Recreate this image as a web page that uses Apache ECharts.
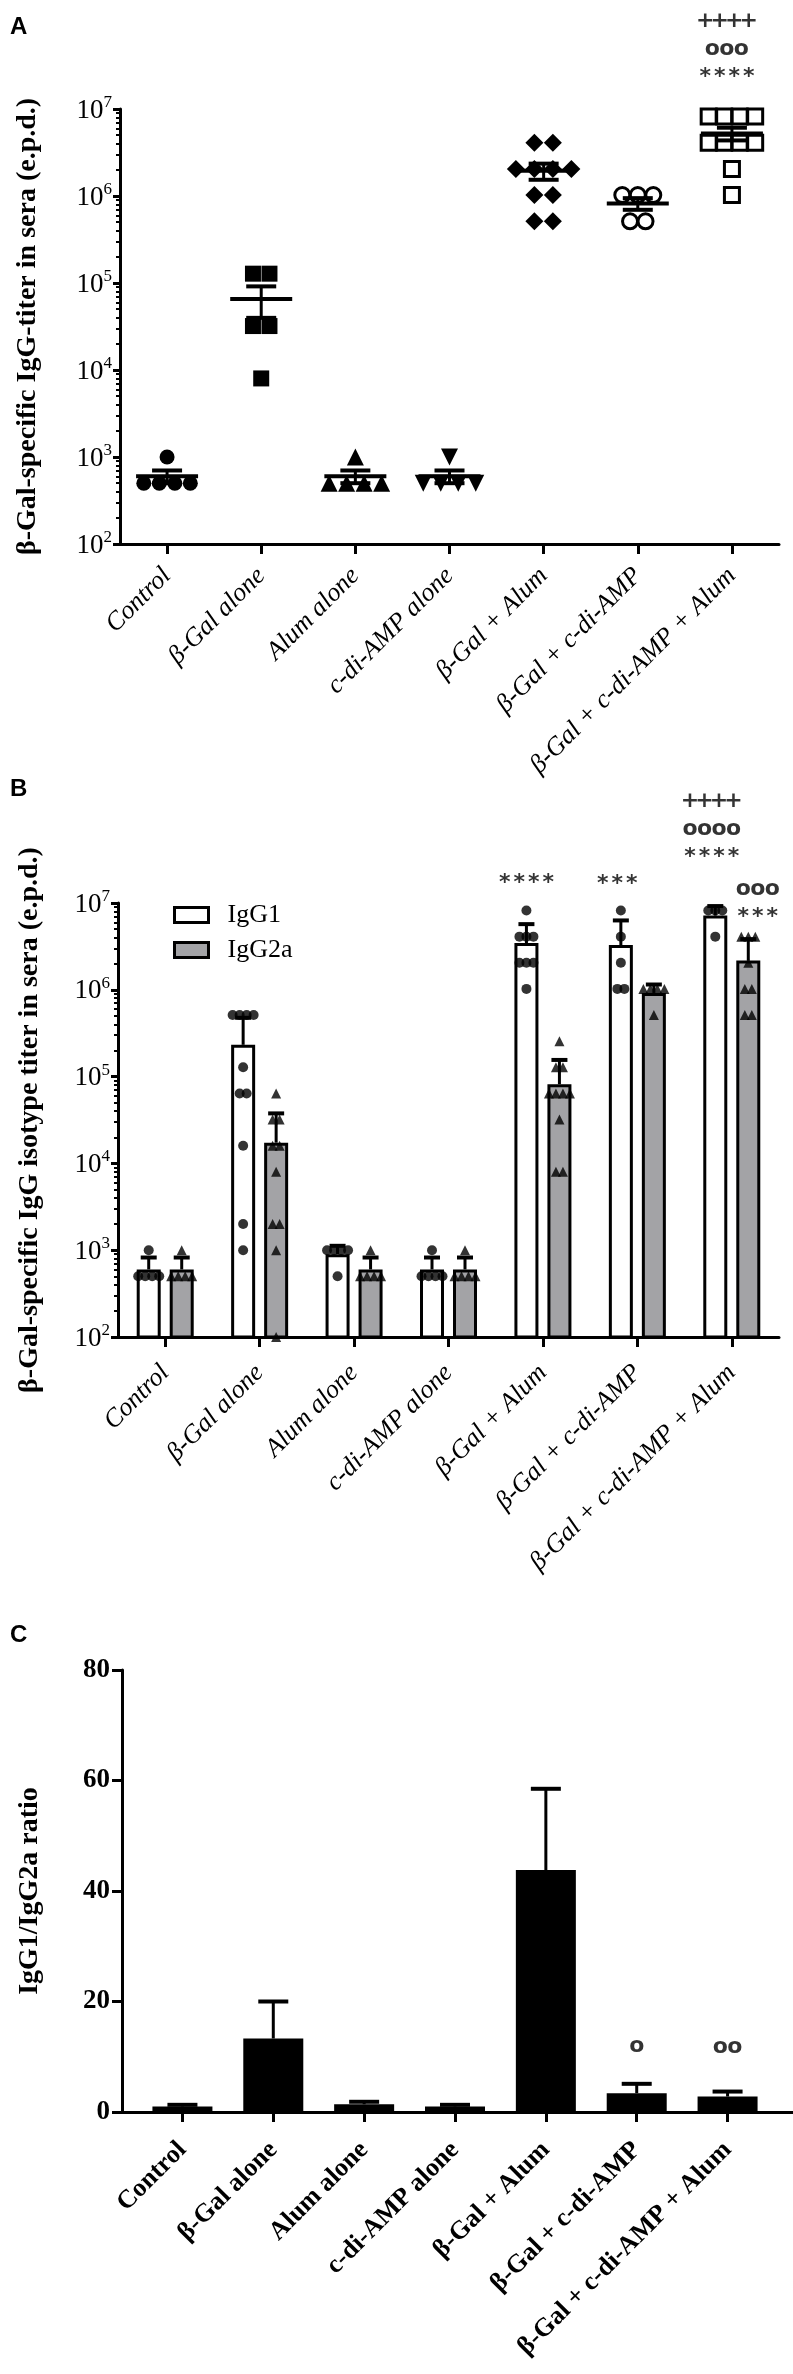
<!DOCTYPE html>
<html>
<head>
<meta charset="utf-8">
<script src="https://cdn.jsdelivr.net/npm/echarts@6/dist/echarts.min.js"></script>
<style>
html,body{margin:0;padding:0;background:#ffffff;}
#chart{width:793px;height:2374px;}
</style>
</head>
<body>
<div id="chart"></div>
<script>
// ---------------- DATA ----------------
const categories = ['Control', 'β-Gal alone', 'Alum alone', 'c-di-AMP alone', 'β-Gal + Alum', 'β-Gal + c-di-AMP', 'β-Gal + c-di-AMP + Alum'];
const logTicks = [1e2, 1e3, 1e4, 1e5, 1e6, 1e7];
const ratioTicks = [0, 20, 40, 60, 80];

// Panel A: total IgG titers per mouse (e.p.d.)
const aControl = [1000, 500, 500, 500, 500];
const aBgal = [128000, 128000, 32000, 32000, 8000];
const aAlum = [1000, 500, 500, 500, 500];
const aCdiAmp = [1000, 500, 500, 500, 500];
const aBgalAlum = [4096000, 4096000, 2048000, 2048000, 2048000, 2048000, 1024000, 1024000, 512000, 512000];
const aBgalCdi = [1024000, 1024000, 1024000, 512000, 512000];
const aBgalCdiAlum = [8192000, 8192000, 8192000, 8192000, 4096000, 4096000, 4096000, 4096000, 2048000, 1024000];

// Panel B: IgG1 / IgG2a titers per mouse
const b1Control = [1000, 500, 500, 500, 500];
const b1Bgal = [512000, 512000, 512000, 512000, 128000, 64000, 64000, 16000, 2000, 1000];
const b1Alum = [1000, 1000, 1000, 1000, 500];
const b1CdiAmp = [1000, 500, 500, 500, 500];
const b1BgalAlum = [8192000, 4096000, 4096000, 4096000, 2048000, 2048000, 2048000, 1024000];
const b1BgalCdi = [8192000, 4096000, 2048000, 1024000, 1024000];
const b1BgalCdiAlum = [8192000, 8192000, 8192000, 4096000];

const b2Control = [1000, 500, 500, 500, 500];
const b2Bgal = [64000, 32000, 32000, 16000, 16000, 8000, 2000, 2000, 1000, 100];
const b2Alum = [1000, 500, 500, 500, 500];
const b2CdiAmp = [1000, 500, 500, 500, 500];
const b2BgalAlum = [256000, 128000, 128000, 64000, 64000, 64000, 64000, 32000, 8000, 8000];
const b2BgalCdi = [1024000, 1024000, 1024000, 1024000, 512000];
const b2BgalCdiAlum = [4096000, 4096000, 4096000, 2048000, 1024000, 1024000, 512000, 512000];

// Panel C: IgG1/IgG2a ratio (mean, error)
const ratioMean = [1.0, 13.3, 1.4, 1.0, 43.8, 3.4, 2.8];
const ratioErr = [0.3, 6.7, 0.45, 0.3, 14.7, 1.7, 0.9];

// Significance annotations (text)
const annotA_all = ['++++', 'ooo', '****'];
const annotB_bgalAlum = ['****'];
const annotB_bgalCdi = ['***'];
const annotB_allIgG1 = ['++++', 'oooo', '****'];
const annotB_allIgG2a = ['ooo', '***'];
const annotC_bgalCdi = ['o'];
const annotC_all = ['oo'];

// ---------------- HELPERS ----------------
const titerA = [aControl, aBgal, aAlum, aCdiAmp, aBgalAlum, aBgalCdi, aBgalCdiAlum];
const titerB1 = [b1Control, b1Bgal, b1Alum, b1CdiAmp, b1BgalAlum, b1BgalCdi, b1BgalCdiAlum];
const titerB2 = [b2Control, b2Bgal, b2Alum, b2CdiAmp, b2BgalAlum, b2BgalCdi, b2BgalCdiAlum];

function mean(a) { return a.reduce((s, v) => s + v, 0) / a.length; }
function sd(a) { const m = mean(a); return Math.sqrt(a.reduce((s, v) => s + (v - m) * (v - m), 0) / (a.length - 1)); }
function spread(cat, values, baseDx, spacing) {
  const counts = {}; values.forEach(v => counts[v] = (counts[v] || 0) + 1);
  const seen = {};
  return values.map(v => {
    const n = counts[v];
    const k = seen[v] = (seen[v] === undefined ? 0 : seen[v] + 1);
    return { value: [cat, v], symbolOffset: [baseDx + (k - (n - 1) / 2) * spacing, 0] };
  });
}
function annotText(lines) {
  return lines.map(l => l.split('').map(ch => '{k|' + ch + '}').join('')).join('\n');
}

const SERIF = 'Liberation Serif';
const annotRich = { k: { width: 14.5, align: 'center', fontSize: 22, fontWeight: 'bold', fontFamily: 'DejaVu Sans', color: '#000', lineHeight: 28 } };

const minorLog = [];
for (let e = 2; e < 7; e++) for (let m = 2; m <= 9; m++) minorLog.push(m * Math.pow(10, e));

function supLabel(v) { return '{b|10}{s|' + Math.round(Math.log10(v)) + '}'; }
const supRich = {
  b: { fontSize: 27, fontFamily: SERIF, color: '#000', verticalAlign: 'bottom', lineHeight: 30 },
  s: { fontSize: 17, fontFamily: SERIF, color: '#000', verticalAlign: 'top', lineHeight: 30 }
};

function logAxes(grid, title, gap) {
  return [
    {
      gridIndex: grid, type: 'log', logBase: 10, min: 100, max: 1e7, position: 'left',
      name: title, nameLocation: 'middle', nameGap: gap, nameRotate: 90,
      nameTextStyle: { fontFamily: SERIF, fontWeight: 'bold', fontSize: 28, color: '#000' },
      axisLine: { show: true, lineStyle: { color: '#000', width: 3 } },
      axisTick: { show: true, length: 7, lineStyle: { color: '#000', width: 3 }, customValues: logTicks },
      axisLabel: { show: true, margin: 8, formatter: supLabel, rich: supRich, customValues: logTicks },
      splitLine: { show: false }
    },
    {
      gridIndex: grid, type: 'log', logBase: 10, min: 100, max: 1e7, position: 'left',
      axisLine: { show: false },
      axisTick: { show: true, length: 4, lineStyle: { color: '#000', width: 2 }, customValues: minorLog },
      axisLabel: { show: false },
      splitLine: { show: false }
    }
  ];
}

function catAxis(grid, margin, bold) {
  return {
    gridIndex: grid, type: 'category', data: categories,
    axisLine: { show: true, lineStyle: { color: '#000', width: 3 } },
    axisTick: { show: true, alignWithLabel: true, length: 10, lineStyle: { color: '#000', width: 3 } },
    axisLabel: {
      interval: 0, rotate: 45, margin: margin, color: '#000', fontFamily: SERIF, fontSize: 26,
      fontStyle: bold ? 'normal' : 'italic', fontWeight: bold ? 'bold' : 'normal'
    },
    splitLine: { show: false }
  };
}

// ---------------- PANEL A ----------------
const aSymbols = [
  { symbol: 'circle', size: 15, fill: '#000' },
  { symbol: 'rect', size: 16, fill: '#000' },
  { symbol: 'triangle', size: 17, fill: '#000' },
  { symbol: 'triangle', size: 17, fill: '#000', rotate: 180 },
  { symbol: 'diamond', size: 18, fill: '#000' },
  { symbol: 'circle', size: 15, fill: '#fff', border: 3 },
  { symbol: 'rect', size: 15, fill: '#fff', border: 3 }
];

const series = [];
titerA.forEach((vals, i) => {
  const s = aSymbols[i];
  series.push({
    type: 'scatter', name: 'A-' + categories[i], xAxisIndex: 0, yAxisIndex: 0,
    symbol: s.symbol, symbolSize: s.size, symbolRotate: s.rotate || 0,
    itemStyle: { color: s.fill, borderColor: '#000', borderWidth: s.border || 0, opacity: 1 },
    data: spread(i, vals, 0, s.size + 0.5), z: 3, silent: true
  });
});
series.push({
  type: 'custom', name: 'A-mean', xAxisIndex: 0, yAxisIndex: 0, z: 5, silent: true,
  encode: { x: 0, y: 1 },
  data: titerA.map((v, i) => { const m = mean(v), e = sd(v) / Math.sqrt(v.length); return [i, m, m - e, m + e]; }),
  renderItem: (params, api) => {
    const i = api.value(0);
    const pm = api.coord([i, api.value(1)]), pl = api.coord([i, api.value(2)]), ph = api.coord([i, api.value(3)]);
    return {
      type: 'group', children: [
        { type: 'line', shape: { x1: pl[0], y1: pl[1], x2: ph[0], y2: ph[1] }, style: { stroke: '#000', lineWidth: 3 } },
        { type: 'line', shape: { x1: pm[0] - 31, y1: pm[1], x2: pm[0] + 31, y2: pm[1] }, style: { stroke: '#000', lineWidth: 4 } },
        { type: 'line', shape: { x1: ph[0] - 15, y1: ph[1], x2: ph[0] + 15, y2: ph[1] }, style: { stroke: '#000', lineWidth: 4 } },
        { type: 'line', shape: { x1: pl[0] - 15, y1: pl[1], x2: pl[0] + 15, y2: pl[1] }, style: { stroke: '#000', lineWidth: 4 } }
      ]
    };
  }
});

// ---------------- PANEL B ----------------
const B_OFF = 16.5;
series.push({
  type: 'bar', name: 'IgG1', xAxisIndex: 1, yAxisIndex: 2, barWidth: 24, barGap: '37.5%', z: 2,
  itemStyle: { color: '#ffffff', borderColor: '#000', borderWidth: 3 },
  data: titerB1.map(v => mean(v)), silent: true
});
series.push({
  type: 'bar', name: 'IgG2a', xAxisIndex: 1, yAxisIndex: 2, barWidth: 24, barGap: '37.5%', z: 2,
  itemStyle: { color: '#a3a3a6', borderColor: '#000', borderWidth: 3 },
  data: titerB2.map(v => mean(v)), silent: true
});
function bError(name, arr, dx) {
  return {
    type: 'custom', name: name, xAxisIndex: 1, yAxisIndex: 2, z: 3, silent: true, encode: { x: 0, y: 1 },
    data: arr.map((v, i) => [i, mean(v), mean(v) + sd(v)]),
    renderItem: (params, api) => {
      const i = api.value(0);
      const pm = api.coord([i, api.value(1)]), ph = api.coord([i, api.value(2)]);
      const x = pm[0] + dx;
      return {
        type: 'group', children: [
          { type: 'line', shape: { x1: x, y1: pm[1], x2: x, y2: ph[1] }, style: { stroke: '#000', lineWidth: 3 } },
          { type: 'line', shape: { x1: x - 8, y1: ph[1], x2: x + 8, y2: ph[1] }, style: { stroke: '#000', lineWidth: 4 } }
        ]
      };
    }
  };
}
series.push(bError('IgG1 SD', titerB1, -B_OFF));
series.push(bError('IgG2a SD', titerB2, B_OFF));
let b1pts = [], b2pts = [];
titerB1.forEach((v, i) => { b1pts = b1pts.concat(spread(i, v, -B_OFF, 7)); });
titerB2.forEach((v, i) => { b2pts = b2pts.concat(spread(i, v, B_OFF, 7)); });
series.push({
  type: 'scatter', name: 'IgG1 mice', xAxisIndex: 1, yAxisIndex: 2, z: 4, silent: true,
  symbol: 'circle', symbolSize: 10, itemStyle: { color: '#000' }, data: b1pts
});
series.push({
  type: 'scatter', name: 'IgG2a mice', xAxisIndex: 1, yAxisIndex: 2, z: 4, silent: true,
  symbol: 'triangle', symbolSize: 10, itemStyle: { color: '#000' }, data: b2pts
});

// ---------------- PANEL C ----------------
series.push({
  type: 'bar', name: 'ratio', xAxisIndex: 2, yAxisIndex: 4, barWidth: 60, z: 2, silent: true,
  itemStyle: { color: '#000' }, data: ratioMean
});
series.push({
  type: 'custom', name: 'ratio err', xAxisIndex: 2, yAxisIndex: 4, z: 3, silent: true, encode: { x: 0, y: 1 },
  data: ratioMean.map((m, i) => [i, m, m + ratioErr[i]]),
  renderItem: (params, api) => {
    const i = api.value(0);
    const pm = api.coord([i, api.value(1)]), ph = api.coord([i, api.value(2)]);
    return {
      type: 'group', children: [
        { type: 'line', shape: { x1: pm[0], y1: pm[1], x2: ph[0], y2: ph[1] }, style: { stroke: '#000', lineWidth: 3 } },
        { type: 'line', shape: { x1: ph[0] - 15, y1: ph[1], x2: ph[0] + 15, y2: ph[1] }, style: { stroke: '#000', lineWidth: 4 } }
      ]
    };
  }
});

// ---------------- ANNOTATIONS ----------------
function annotSeries(name, xi, yi, items) {
  return {
    type: 'scatter', name: name, xAxisIndex: xi, yAxisIndex: yi, z: 6, silent: true,
    symbolSize: 1, itemStyle: { color: 'rgba(0,0,0,0)' },
    label: { show: true, position: 'top', distance: 5, formatter: p => annotText(p.data.lines), rich: annotRich },
    data: items.map(it => ({ value: [it.cat, it.anchor], lines: it.lines, label: { offset: it.offset } }))
  };
}
series.push(annotSeries('annot A', 0, 0, [
  { cat: 6, anchor: Math.max(...aBgalCdiAlum), lines: annotA_all, offset: [-5, -20] }
]));
series.push(annotSeries('annot B', 1, 2, [
  { cat: 4, anchor: mean(b1BgalAlum) + sd(b1BgalAlum), lines: annotB_bgalAlum, offset: [-B_OFF, -21] },
  { cat: 5, anchor: mean(b1BgalCdi) + sd(b1BgalCdi), lines: annotB_bgalCdi, offset: [-20, -17] },
  { cat: 6, anchor: mean(b1BgalCdiAlum) + sd(b1BgalCdiAlum), lines: annotB_allIgG1, offset: [-20, -29] },
  { cat: 6, anchor: mean(b2BgalCdiAlum) + sd(b2BgalCdiAlum), lines: annotB_allIgG2a, offset: [26, -2] }
]));
series.push(annotSeries('annot C', 2, 4, [
  { cat: 5, anchor: ratioMean[5] + ratioErr[5], lines: annotC_bgalCdi, offset: [0, -18] },
  { cat: 6, anchor: ratioMean[6] + ratioErr[6], lines: annotC_all, offset: [0, -25] }
]));

// ---------------- OPTION ----------------
const option = {
  animation: false,
  backgroundColor: '#ffffff',
  grid: [
    { left: 120, top: 109, width: 659, height: 435 },
    { left: 118, top: 903, width: 661, height: 434 },
    { left: 137, top: 1670, width: 636, height: 442 },
    { left: 122, top: 1670, width: 671, height: 442 }
  ],
  xAxis: [
    catAxis(0, 28, false),
    catAxis(1, 32, false),
    catAxis(2, 34, true),
    {
      gridIndex: 3, type: 'value', min: 0, max: 1,
      axisLine: { show: true, lineStyle: { color: '#000', width: 3 } },
      axisTick: { show: false }, axisLabel: { show: false }, splitLine: { show: false }
    }
  ],
  yAxis: [
    ...logAxes(0, 'β-Gal-specific IgG-titer in sera (e.p.d.)', 78),
    ...logAxes(1, 'β-Gal-specific IgG isotype titer in sera (e.p.d.)', 74),
    {
      gridIndex: 2, type: 'value', min: 0, max: 80, interval: 20, offset: 15, position: 'left',
      name: 'IgG1/IgG2a ratio', nameLocation: 'middle', nameGap: 78, nameRotate: 90,
      nameTextStyle: { fontFamily: SERIF, fontWeight: 'bold', fontSize: 28, color: '#000' },
      axisLine: { show: true, lineStyle: { color: '#000', width: 3 } },
      axisTick: { show: true, length: 10, lineStyle: { color: '#000', width: 3 } },
      axisLabel: { margin: 12, color: '#000', fontFamily: SERIF, fontWeight: 'bold', fontSize: 27 },
      splitLine: { show: false }
    },
    { gridIndex: 3, type: 'value', show: false }
  ],
  legend: {
    left: 168, top: 895, orient: 'vertical', itemWidth: 34, itemHeight: 15, itemGap: 5,
    selectedMode: false,
    textStyle: { fontFamily: SERIF, fontSize: 26, color: '#000', lineHeight: 30, padding: [0, 0, 0, 14] },
    data: [
      { name: 'IgG1', icon: 'rect', itemStyle: { color: '#ffffff', borderColor: '#000', borderWidth: 3 } },
      { name: 'IgG2a', icon: 'rect', itemStyle: { color: '#a3a3a6', borderColor: '#000', borderWidth: 3 } }
    ]
  },
  graphic: [
    { type: 'text', left: 10, top: 15, style: { text: 'A', fontFamily: 'Liberation Sans', fontWeight: 'bold', fontSize: 24, fill: '#000' } },
    { type: 'text', left: 10, top: 777, style: { text: 'B', fontFamily: 'Liberation Sans', fontWeight: 'bold', fontSize: 24, fill: '#000' } },
    { type: 'text', left: 10, top: 1623, style: { text: 'C', fontFamily: 'Liberation Sans', fontWeight: 'bold', fontSize: 24, fill: '#000' } }
  ],
  series: series
};

const chart = echarts.init(document.getElementById('chart'), null, { renderer: 'canvas', width: 793, height: 2374 });
chart.setOption(option);
</script>
</body>
</html>
